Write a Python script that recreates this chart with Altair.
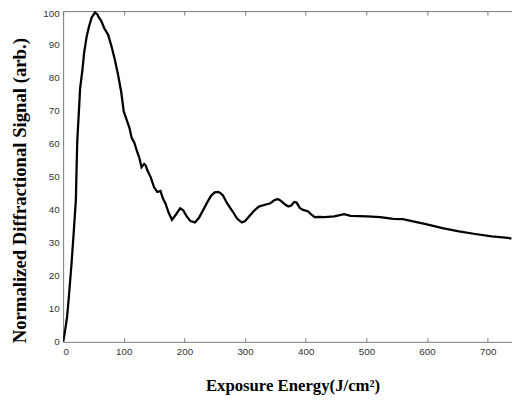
import altair as alt
import pandas as pd

energy = [0, 2, 3.9, 6.5, 9.2, 13.6, 17.4, 21, 22, 23.3, 25.5, 28, 32, 34.7, 39, 42.8, 47, 52.5,
          56.8, 57.9, 63.2, 67.6, 71.4, 74.1, 79.5, 85, 90.3, 95.7, 100, 103.8, 109.3, 113, 117.4,
          121.6, 125.5, 129.2, 133.6, 136.2, 139, 144.3, 149.8, 155.2, 160.5, 164.4, 168.6, 174,
          179.5, 186, 193, 198, 203.8, 210, 217.3, 224, 231, 238, 244.4, 250, 255.2, 259, 263.3,
          270, 279.5, 287, 294.6, 300, 306.5, 314, 322.7, 330, 341.7, 348, 352.5, 356, 360.6, 366,
          371.3, 376, 381, 385, 390, 395.7, 404, 409, 414.6, 422, 430.8, 447, 463.3, 474, 501,
          522.8, 544.4, 560, 576.8, 598, 625.4, 652.5, 679.5, 706.5, 733.5, 739]
signal = [0, 2, 4.2, 7.5, 13.1, 23, 32.9, 42.9, 51, 60.7, 68, 76.6, 82.5, 87.5, 92.5, 95.4, 98, 99.6,
          98.9, 98.4, 96.9, 94.9, 93.7, 92.9, 89.5, 85.5, 81, 75.6, 69.6, 67.6, 64.7, 61.7, 60.2,
          57.7, 55.7, 52.8, 53.8, 53.3, 51.8, 49.8, 46.8, 45.3, 45.6, 43.4, 41.9, 39,
          36.9, 38.5, 40.4, 39.8, 37.9, 36.5, 36.1, 37.5, 39.9, 42.3, 44.3, 45.2, 45.3, 45, 44.3,
          42, 39.4, 37.2, 36.1, 36.5, 37.9, 39.5, 40.9, 41.3, 41.9, 42.8, 43.1, 43, 42.4, 41.5,
          40.9, 41.2, 42.3, 42.1, 40.5, 39.9, 39.4, 38.5, 37.7, 37.8, 37.7, 37.9, 38.6, 38.1, 37.9,
          37.7, 37.2, 37.1, 36.4, 35.6, 34.4, 33.4, 32.6, 31.9, 31.4, 31.2]

x_ticks = [0, 100, 200, 300, 400, 500, 600, 700]
y_ticks = [0, 10, 20, 30, 40, 50, 60, 70, 80, 90, 100]

df = pd.DataFrame({"x": energy, "y": signal})

W, H = 456, 336
xs = alt.Scale(domain=[0, 740], nice=False, zero=False)
ys = alt.Scale(domain=[0, 100], nice=False)

AX_COL = "#7a7a7a"
LAB_COL = "#333333"

base = alt.Chart(df)

main = base.mark_line(color="black", strokeWidth=2.3, clip=True).encode(
    x=alt.X("x:Q", scale=xs, axis=alt.Axis(
        orient="bottom", values=x_ticks, ticks=False, grid=False,
        domainColor=AX_COL, domainWidth=1,
        labelFont="Liberation Sans", labelFontSize=10, labelColor=LAB_COL, labelPadding=5,
        title="Exposure Energy(J/cm²)", titleFont="Liberation Serif", titleFontSize=17,
        titleFontWeight="bold", titleColor="black", titleX=233, titleY=49,
        titleBaseline="alphabetic", titleAlign="center")),
    y=alt.Y("y:Q", scale=ys, axis=alt.Axis(
        orient="left", values=y_ticks, ticks=False, grid=False,
        domainColor=AX_COL, domainWidth=1,
        labelFont="Liberation Sans", labelFontSize=10, labelColor=LAB_COL, labelPadding=4,
        labelBaseline=alt.condition("datum.value == 100", alt.value("top"), alt.value("middle")),
        labelOffset=alt.condition("datum.value == 100", alt.value(-2), alt.value(0)),
        title="Normalized Diffractional Signal (arb.)", titleFont="Liberation Serif",
        titleFontSize=19, titleFontWeight="bold", titleColor="black",
        titleX=-38, titleY=182, titleAngle=-90, titleBaseline="alphabetic",
        titleAlign="center")),
)

bottom_ticks = base.mark_line(opacity=0).encode(
    x=alt.X("x:Q", scale=xs, axis=alt.Axis(
        orient="top", offset=-H, values=x_ticks, labels=False, domain=False,
        ticks=True, tickSize=4, tickColor=AX_COL, grid=False, title=None)),
    y=alt.Y("y:Q", scale=ys, axis=None),
)

top_border = base.mark_line(opacity=0).encode(
    x=alt.X("x:Q", scale=xs, axis=alt.Axis(
        orient="bottom", offset=-H, values=x_ticks, labels=False, domain=True,
        domainColor=AX_COL, ticks=True, tickSize=4, tickColor=AX_COL, grid=False,
        title=None)),
    y=alt.Y("y:Q", scale=ys, axis=None),
)

chart = alt.layer(main, bottom_ticks, top_border).resolve_axis(
    x="independent", y="independent"
).properties(
    width=W, height=H,
    autosize=alt.AutoSizeParams(type="none"),
    padding={"left": 56, "top": 0, "right": 0, "bottom": 58},
    background="white",
).configure_view(stroke=None)

chart.save("out.html", embed_options={"renderer": "svg", "actions": False})
